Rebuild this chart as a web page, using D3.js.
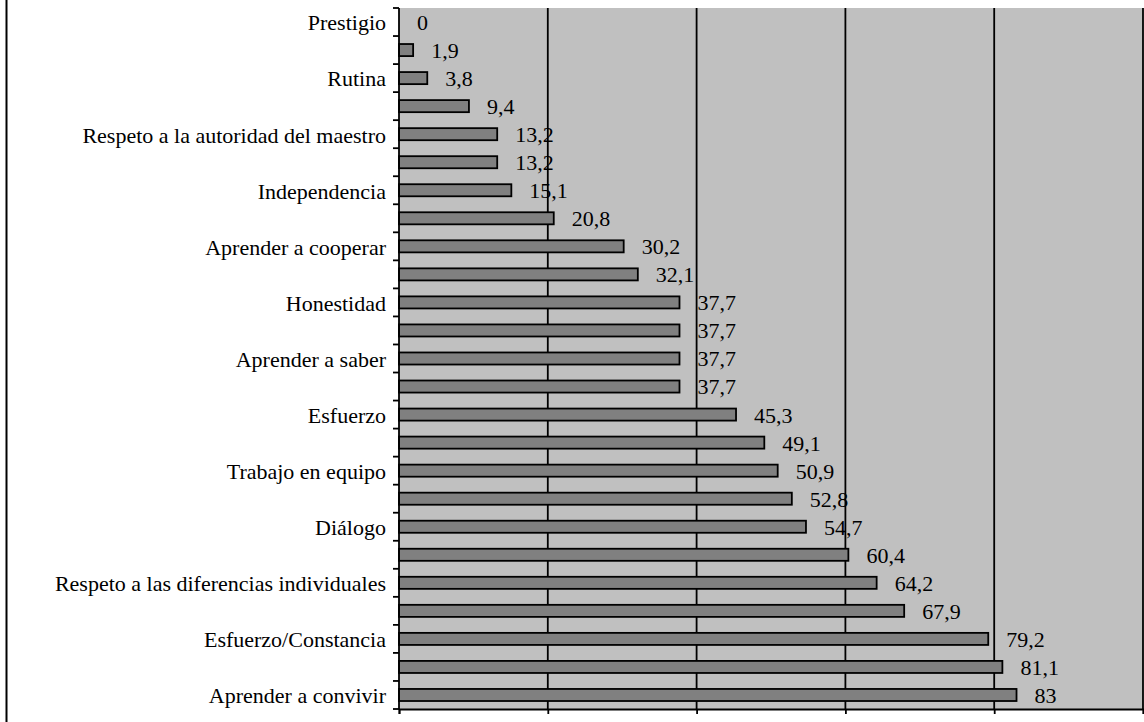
<!DOCTYPE html>
<html>
<head>
<meta charset="utf-8">
<script src="https://cdn.jsdelivr.net/npm/d3@7/dist/d3.min.js"></script>
<style>
  html, body { margin: 0; padding: 0; background: #ffffff; }
  svg { display: block; }
</style>
</head>
<body>
<svg id="chart" width="1144" height="722"></svg>
<script>
// Category labels (only every other row carries a printed name)
const categories = [
  "Prestigio", "", "Rutina", "", "Respeto a la autoridad del maestro", "",
  "Independencia", "", "Aprender a cooperar", "", "Honestidad", "",
  "Aprender a saber", "", "Esfuerzo", "", "Trabajo en equipo", "",
  "Diálogo", "", "Respeto a las diferencias individuales", "",
  "Esfuerzo/Constancia", "", "Aprender a convivir"
];
// Percentages, one per row, top to bottom
const values = [
  0, 1.9, 3.8, 9.4, 13.2, 13.2, 15.1, 20.8, 30.2, 32.1,
  37.7, 37.7, 37.7, 37.7, 45.3, 49.1, 50.9, 52.8, 54.7,
  60.4, 64.2, 67.9, 79.2, 81.1, 83
];
const xTicks = [0, 20, 40, 60, 80, 100];

const FONT = "'Liberation Serif', 'Times New Roman', Times, serif";
const svg = d3.select("#chart");
const plot = { left: 399, right: 1143, top: 8, bottom: 709 };

const rows = d3.range(values.length);
const x = d3.scaleLinear().domain([0, 100]).range([plot.left, plot.right]);
const pad = 0.57;
const y = d3.scaleBand().domain(rows).range([plot.top, plot.bottom])
  .paddingInner(pad).paddingOuter(pad / 2);
const step = y.step();

// outer frame line on the left
svg.append("line")
  .attr("x1", 6.5).attr("x2", 6.5).attr("y1", 0).attr("y2", 722)
  .attr("stroke", "#000").attr("stroke-width", 2);

// plot background
svg.append("rect")
  .attr("x", plot.left).attr("y", plot.top)
  .attr("width", plot.right - plot.left).attr("height", plot.bottom - plot.top)
  .attr("fill", "#c0c0c0");

// vertical gridlines
svg.append("g").selectAll("line")
  .data(xTicks.filter(d => d > 0))
  .join("line")
  .attr("x1", d => x(d)).attr("x2", d => x(d))
  .attr("y1", plot.top).attr("y2", plot.bottom)
  .attr("stroke", "#000").attr("stroke-width", 1.8);

// bars
svg.append("g").selectAll("rect")
  .data(values)
  .join("rect")
  .attr("x", x(0))
  .attr("y", (d, i) => y(i))
  .attr("width", d => x(d) - x(0))
  .attr("height", y.bandwidth())
  .attr("fill", "#808080")
  .attr("stroke", "#000")
  .attr("stroke-width", 1.8);

// value labels
svg.append("g").selectAll("text")
  .data(values)
  .join("text")
  .attr("x", d => x(d) + 18)
  .attr("y", (d, i) => y(i) + y.bandwidth() / 2)
  .attr("dy", "0.36em")
  .attr("font-family", FONT)
  .attr("font-size", 22)
  .attr("fill", "#000")
  .text(d => String(d).replace(".", ","));

// bottom axis
const xAxis = svg.append("g")
  .attr("transform", `translate(0,${plot.bottom})`)
  .call(d3.axisBottom(x).tickValues(xTicks).tickSize(5).tickFormat(""));
xAxis.selectAll("path, line").attr("stroke", "#000").attr("stroke-width", 1.8);

// left axis: line and ticks at row boundaries
const yAxis = svg.append("g");
yAxis.append("line")
  .attr("x1", plot.left).attr("x2", plot.left)
  .attr("y1", plot.top).attr("y2", plot.bottom)
  .attr("stroke", "#000").attr("stroke-width", 1.8);
yAxis.selectAll("line.tick")
  .data(d3.range(values.length + 1))
  .join("line")
  .attr("class", "tick")
  .attr("x1", plot.left - 6).attr("x2", plot.left)
  .attr("y1", i => plot.top + i * step).attr("y2", i => plot.top + i * step)
  .attr("stroke", "#000").attr("stroke-width", 1.8);

// category labels
svg.append("g").selectAll("text")
  .data(categories)
  .join("text")
  .attr("x", plot.left - 13)
  .attr("y", (d, i) => y(i) + y.bandwidth() / 2)
  .attr("dy", "0.38em")
  .attr("text-anchor", "end")
  .attr("font-family", FONT)
  .attr("font-size", 22)
  .attr("fill", "#000")
  .text(d => d);
</script>
</body>
</html>
